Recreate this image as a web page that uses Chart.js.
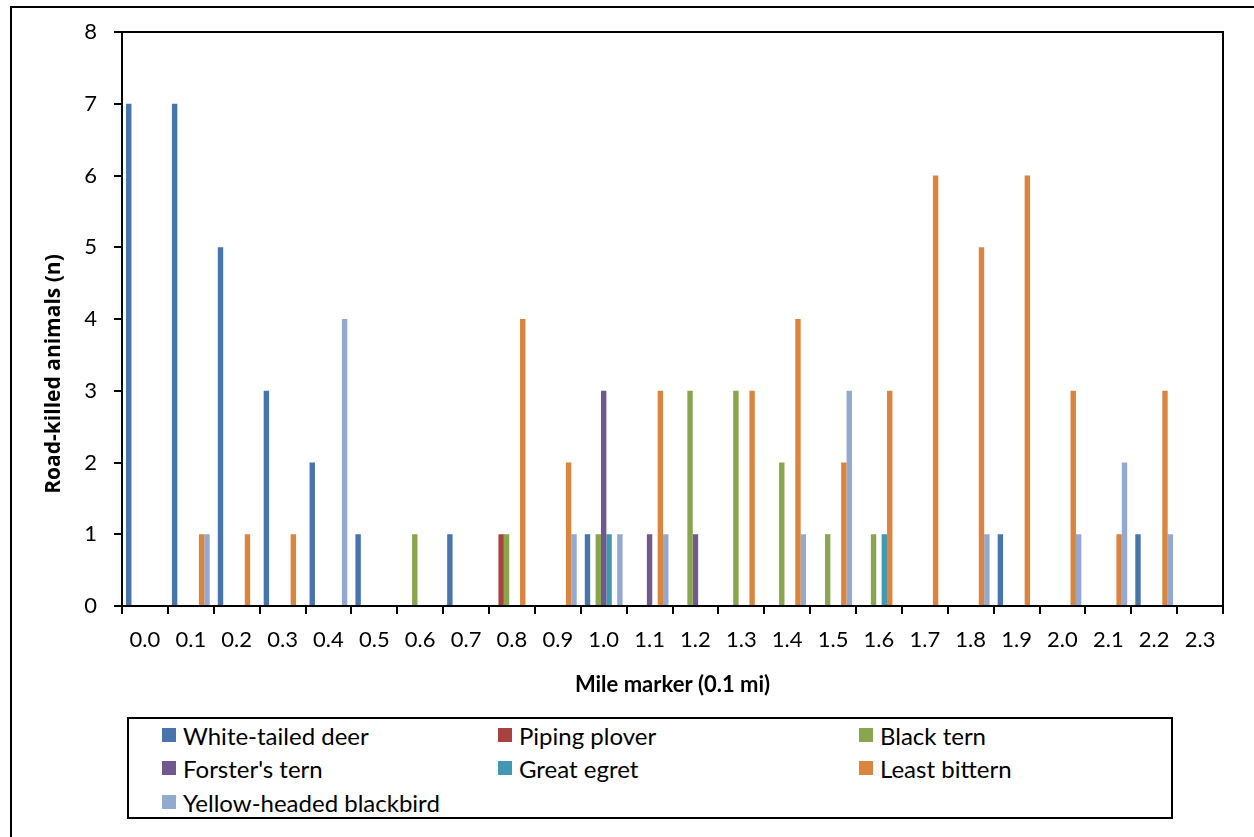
<!DOCTYPE html>
<html>
<head>
<meta charset="utf-8">
<title>Road-killed animals by mile marker</title>
<script src="https://cdn.jsdelivr.net/npm/chart.js@4.4.0/dist/chart.umd.min.js"></script>
<style>
    html, body { margin: 0; padding: 0; background: #fff; overflow: hidden; }
    #wrap { position: relative; width: 1254px; height: 837px; }
    #frame { position: absolute; left: 10px; top: 6px; width: 1400px; height: 1000px; border: 2px solid #000; }
    #roadkillChart { position: absolute; left: 0; top: 0; }
    #legendBox {
        position: absolute; left: 127px; top: 717px; width: 1042px; height: 98px;
        border: 2px solid #000; background: #fff;
        font-family: Lato, "Open Sans", sans-serif; font-size: 24px; color: #000;
    }
    #legendBox .item { position: absolute; display: flex; align-items: center; white-space: nowrap; height: 30px; }
    #legendBox .swatch { width: 14px; height: 14px; margin-right: 7px; }
</style>
</head>
<body>
<div id="wrap">
    <div id="frame"></div>
    <canvas id="roadkillChart" width="1254" height="837"></canvas>
    <div id="legendBox"></div>
</div>
<script>
// mile markers (0.1 mi)
const mileMarkers = ['0.0', '0.1', '0.2', '0.3', '0.4', '0.5', '0.6', '0.7', '0.8', '0.9', '1.0', '1.1',
                     '1.2', '1.3', '1.4', '1.5', '1.6', '1.7', '1.8', '1.9', '2.0', '2.1', '2.2', '2.3'];

// counts per species at each marker
const whiteTailedDeer   = [7, 7, 5, 3, 2, 1, 0, 1, 0, 0, 1, 0, 0, 0, 0, 0, 0, 0, 0, 1, 0, 0, 1, 0];
const pipingPlover      = [0, 0, 0, 0, 0, 0, 0, 0, 1, 0, 0, 0, 0, 0, 0, 0, 0, 0, 0, 0, 0, 0, 0, 0];
const blackTern         = [0, 0, 0, 0, 0, 0, 1, 0, 1, 0, 1, 0, 3, 3, 2, 1, 1, 0, 0, 0, 0, 0, 0, 0];
const forstersTern      = [0, 0, 0, 0, 0, 0, 0, 0, 0, 0, 3, 1, 1, 0, 0, 0, 0, 0, 0, 0, 0, 0, 0, 0];
const greatEgret        = [0, 0, 0, 0, 0, 0, 0, 0, 0, 0, 1, 0, 0, 0, 0, 0, 1, 0, 0, 0, 0, 0, 0, 0];
const leastBittern      = [0, 1, 1, 1, 0, 0, 0, 0, 4, 2, 0, 3, 0, 3, 4, 2, 3, 6, 5, 6, 3, 1, 3, 0];
const yellowHeadedBlackbird = [0, 1, 0, 0, 4, 0, 0, 0, 0, 1, 1, 1, 0, 0, 1, 3, 0, 0, 1, 0, 1, 2, 1, 0];

const yTicks = [0, 1, 2, 3, 4, 5, 6, 7, 8];

document.addEventListener('DOMContentLoaded', function () {
    const ctx = document.getElementById('roadkillChart');

    // box around the plot area (Excel draws all four sides)
    const plotFramePlugin = {
        id: 'plotFrame',
        afterDatasetsDraw(chart) {
            const { ctx, chartArea: { left, top, width, height } } = chart;
            ctx.save();
            ctx.strokeStyle = '#000';
            ctx.lineWidth = 2;
            ctx.strokeRect(left, top, width, height);
            ctx.restore();
        }
    };

    // y axis title sits lower than the plot centre in the original, so draw it by hand
    const yTitlePlugin = {
        id: 'yTitle',
        afterDraw(chart) {
            const c = chart.ctx;
            c.save();
            c.translate(54, 374);
            c.rotate(-Math.PI / 2);
            c.font = 'bold 21px "Open Sans", Lato, sans-serif';
            c.fillStyle = '#000';
            c.textAlign = 'center';
            c.textBaseline = 'middle';
            c.fillText('Road-killed animals (n)', 0, 0);
            c.restore();
        }
    };

    const series = [
        { label: 'White-tailed deer', data: whiteTailedDeer, color: '#4674ab' },
        { label: 'Piping plover', data: pipingPlover, color: '#a8423f' },
        { label: 'Black tern', data: blackTern, color: '#89a54e' },
        { label: "Forster's tern", data: forstersTern, color: '#71588f' },
        { label: 'Great egret', data: greatEgret, color: '#4198af' },
        { label: 'Least bittern', data: leastBittern, color: '#db843d' },
        { label: 'Yellow-headed blackbird', data: yellowHeadedBlackbird, color: '#93a9cf' }
    ];

    const tickFont = { family: 'Lato, "Open Sans", sans-serif', size: 22 };
    const titleFont = { family: 'Lato, "Open Sans", sans-serif', size: 22, weight: 'bold' };

    const chart = new Chart(ctx, {
        type: 'bar',
        data: {
            labels: mileMarkers,
            datasets: series.map(s => ({
                label: s.label,
                data: s.data,
                backgroundColor: s.color,
                borderWidth: 0,
                categoryPercentage: 0.8235,
                barPercentage: 1.0
            }))
        },
        options: {
            responsive: false,
            animation: false,
            layout: {
                padding: { left: 11, top: 32, right: 31, bottom: 131 }
            },
            plugins: {
                legend: { display: false }, // drawn as html below, 3 columns like Excel
                tooltip: { enabled: false }
            },
            scales: {
                x: {
                    afterFit(scale) { scale.height = 100; },
                    grid: {
                        offset: true,
                        drawOnChartArea: false,
                        drawTicks: true,
                        tickLength: 8,
                        color: '#000',
                        lineWidth: 2
                    },
                    border: { display: true, color: '#000', width: 2 },
                    ticks: {
                        color: '#000',
                        font: tickFont,
                        padding: 13,
                        autoSkip: false,
                        maxRotation: 0,
                        minRotation: 0
                    },
                    title: {
                        display: true,
                        text: 'Mile marker (0.1 mi)',
                        color: '#000',
                        font: titleFont,
                        padding: { top: 0, bottom: 8 }
                    }
                },
                y: {
                    min: yTicks[0],
                    max: yTicks[yTicks.length - 1],
                    afterFit(scale) { scale.width = 111; },
                    afterBuildTicks(scale) { scale.ticks = yTicks.map(v => ({ value: v })); },
                    grid: {
                        drawOnChartArea: false,
                        drawTicks: true,
                        tickLength: 8,
                        color: '#000',
                        lineWidth: 2
                    },
                    border: { display: true, color: '#000', width: 2 },
                    ticks: {
                        color: '#000',
                        font: tickFont,
                        padding: 17
                    },
                    title: { display: false }
                }
            }
        },
        plugins: [plotFramePlugin, yTitlePlugin]
    });

    // html legend, 3 columns x 3 rows
    const legendBox = document.getElementById('legendBox');
    const colLeft = [33, 369, 730];
    const rowMid = [16, 49, 83];
    chart.data.datasets.forEach((ds, i) => {
        const item = document.createElement('div');
        item.className = 'item';
        item.style.left = colLeft[i % 3] + 'px';
        item.style.top = (rowMid[Math.floor(i / 3)] - 15) + 'px';
        const sw = document.createElement('span');
        sw.className = 'swatch';
        sw.style.background = ds.backgroundColor;
        const txt = document.createElement('span');
        txt.textContent = ds.label;
        item.appendChild(sw);
        item.appendChild(txt);
        legendBox.appendChild(item);
    });
});
</script>
</body>
</html>
